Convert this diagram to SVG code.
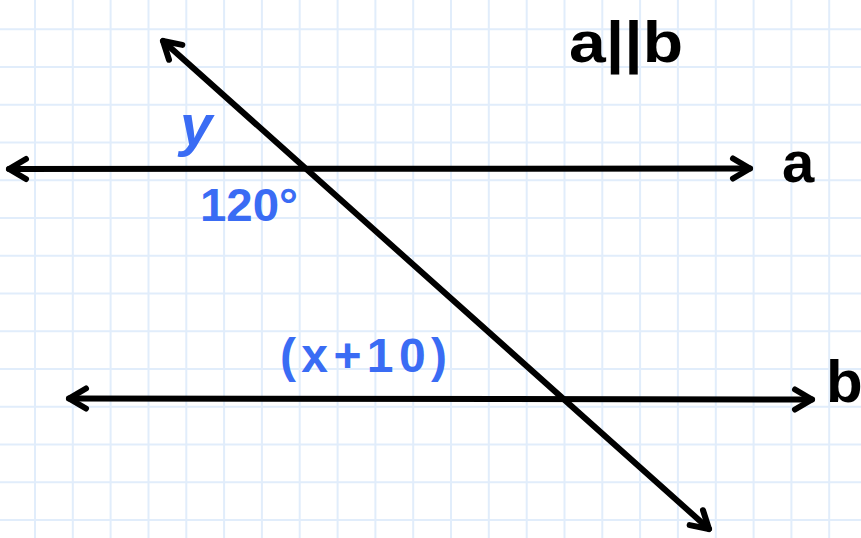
<svg xmlns="http://www.w3.org/2000/svg" width="861" height="538" viewBox="0 0 861 538">
<style>
.grid{stroke:#e1edfb;stroke-width:2;fill:none}
.ln{stroke:#000;stroke-width:6;stroke-linecap:round;fill:none}
.blk{font-family:"Liberation Sans",Arial,sans-serif;fill:#000;font-weight:bold}
.blu{font-family:"Liberation Sans",Arial,sans-serif;fill:#3a6cf4;font-weight:bold}
</style>
<defs>
<marker id="arr" markerUnits="userSpaceOnUse" markerWidth="40" markerHeight="40" viewBox="-25 -20 40 40" refX="0" refY="0" orient="auto-start-reverse">
<path d="M-17,-10 L0,0 L-17,10" stroke="#000" stroke-width="6" stroke-linecap="round" stroke-linejoin="round" fill="none"/>
</marker>
</defs>
<rect width="861" height="538" fill="#fff"/>
<path class="grid" d="M35,0V538M72.8,0V538M110.6,0V538M148.5,0V538M186.3,0V538M224.1,0V538M261.9,0V538M299.7,0V538M337.6,0V538M375.4,0V538M413.2,0V538M451,0V538M488.8,0V538M526.7,0V538M564.5,0V538M602.3,0V538M640.1,0V538M677.9,0V538M715.8,0V538M753.6,0V538M791.4,0V538M829.2,0V538
M0,29.3H861M0,67H861M0,104.8H861M0,142.6H861M0,180.3H861M0,218H861M0,255.8H861M0,293.6H861M0,331.3H861M0,369H861M0,406.8H861M0,444.6H861M0,482.3H861M0,520H861"/>
<g id="connectors">
<path id="line-a" class="ln" d="M9,169 L750,168.5" marker-start="url(#arr)" marker-end="url(#arr)"/>
<path id="line-b" class="ln" d="M69,398.5 L812,399.5" marker-start="url(#arr)" marker-end="url(#arr)"/>
<path id="transversal" class="ln" d="M163,41 L709,529" marker-start="url(#arr)" marker-end="url(#arr)"/>
</g>
<g id="label-parallel"><text class="blk" x="569" y="62" font-size="58" textLength="114" lengthAdjust="spacingAndGlyphs">a||b</text></g>
<g id="label-a"><text class="blk" x="782" y="182" font-size="58">a</text></g>
<g id="label-b"><text class="blk" x="826" y="402" font-size="60">b</text></g>
<g id="label-y"><text class="blu" x="180" y="145" font-size="58" font-style="italic">y</text></g>
<g id="label-120"><text class="blu" x="200" y="221" font-size="46" textLength="98" lengthAdjust="spacingAndGlyphs">120°</text></g>
<g id="label-x10"><text class="blu" x="280" y="372" font-size="48" textLength="167" lengthAdjust="spacing">(x+10)</text></g>
</svg>
